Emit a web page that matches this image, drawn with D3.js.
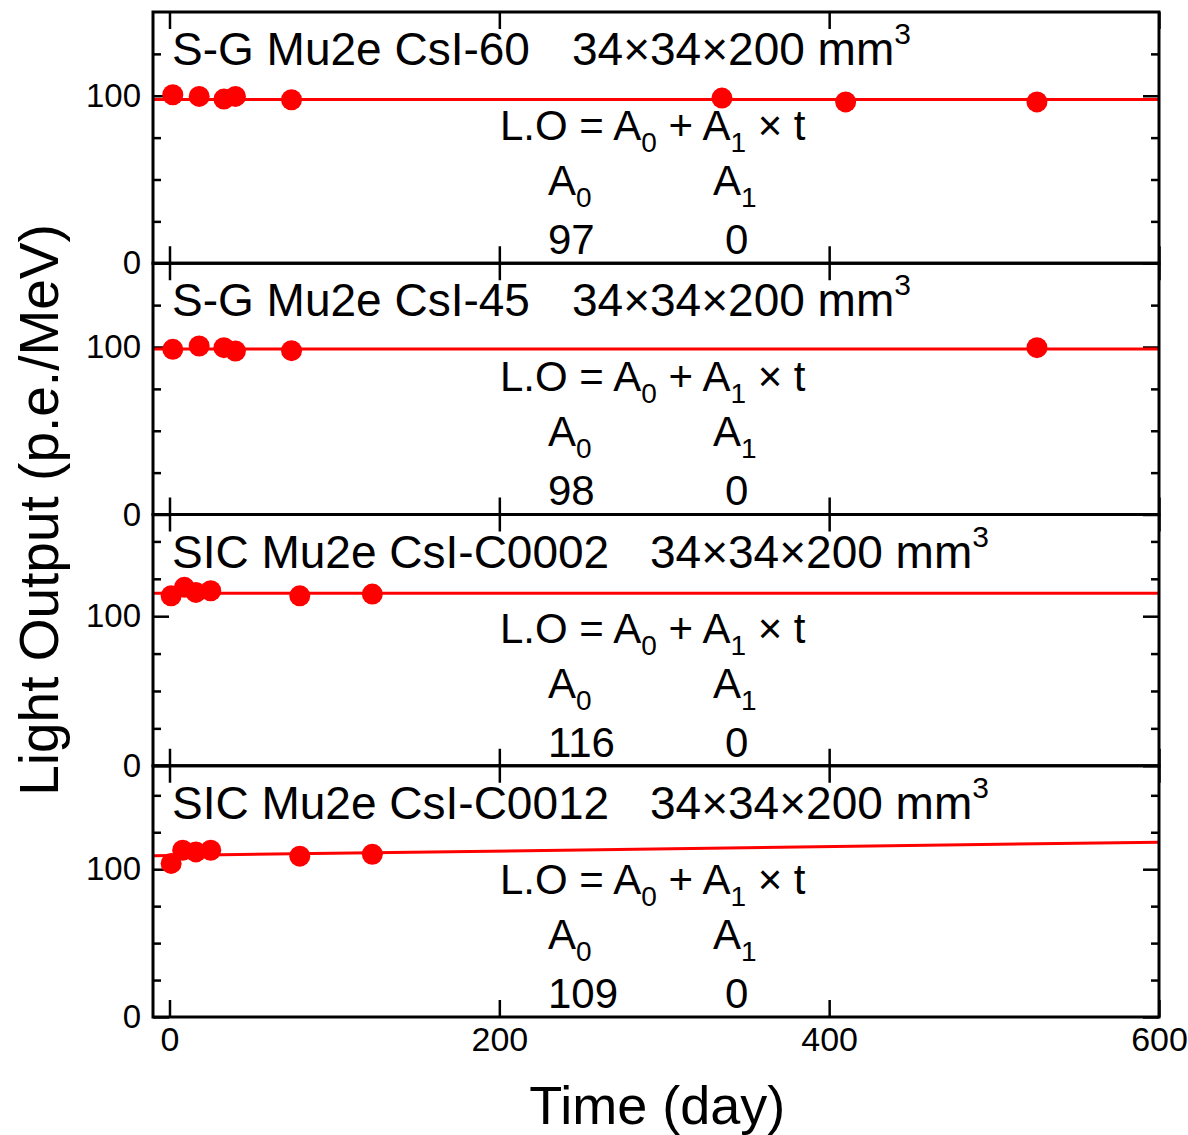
<!DOCTYPE html>
<html>
<head>
<meta charset="utf-8">
<script src="https://cdn.jsdelivr.net/npm/d3@7"></script>
<style>
  html, body { margin: 0; padding: 0; background: #fff; }
  svg { display: block; font-family: "Liberation Sans", Arial, sans-serif; }
</style>
</head>
<body>
<svg id="chart" width="1188" height="1135"></svg>
<script>
// ---------- data ----------
const panelNames = ["S-G Mu2e CsI-60", "S-G Mu2e CsI-45", "SIC Mu2e CsI-C0002", "SIC Mu2e CsI-C0012"];
const panelDims = "34×34×200 mm";
const days1 = [2, 18, 33, 40, 74, 335, 410, 526];
const lo1   = [100.6, 99.6, 98.0, 99.6, 97.6, 98.6, 96.3, 96.3];
const days2 = [2, 18, 33, 40, 74, 526];
const lo2   = [98.6, 100.6, 99.6, 97.6, 97.8, 99.6];
const days3 = [1, 9, 16, 25, 79, 123];
const lo3   = [113.6, 119.3, 115.9, 117.0, 113.6, 114.8];
const days4 = [1, 8, 16, 25, 79, 123];
const lo4   = [103.9, 112.8, 111.7, 112.8, 108.8, 110.1];
const fitA0 = [97.7, 98.8, 115.4, 109.3];
const fitA1 = [0, 0, 0, 0.015];
const labelA0 = ["97", "98", "116", "109"];
const labelA1 = ["0", "0", "0", "0"];
const yMax = [150, 150, 168, 170];
const xTicks = [0, 200, 400, 600];
const yMajorTicks = [0, 100];
const yMinorTicks = [25, 50, 75, 125, 150];
const xDomain = [-10, 600];

const series = [
  {days: days1, lo: lo1},
  {days: days2, lo: lo2},
  {days: days3, lo: lo3},
  {days: days4, lo: lo4}
];

// ---------- layout ----------
const svg = d3.select("#chart");
const left = 153, right = 1159, top0 = 12, bottom = 1017;
const nP = 4;
const pH = (bottom - top0) / nP;
const red = "#ff0000";

const x = d3.scaleLinear().domain(xDomain).range([left, right]);

series.forEach((s, i) => {
  const pTop = top0 + i * pH;
  const pBot = pTop + pH;
  const y = d3.scaleLinear().domain([0, yMax[i]]).range([pBot, pTop]);
  const g = svg.append("g");

  const clipId = "clip" + i;
  svg.append("clipPath").attr("id", clipId)
    .append("rect").attr("x", left).attr("y", pTop).attr("width", right - left).attr("height", pH);

  const minor = yMinorTicks.filter(v => v < yMax[i]);
  const styleAxis = sel => {
    sel.select(".domain").remove();
    sel.selectAll(".tick line").attr("stroke", "#000").attr("stroke-width", 2.5);
    sel.selectAll("text").attr("fill", "#000");
  };
  g.append("g").attr("transform", `translate(${left},0)`)
    .call(d3.axisLeft(y).tickValues(yMajorTicks).tickSize(-16).tickPadding(12).tickFormat(d3.format("d")))
    .call(styleAxis)
    .selectAll("text").attr("font-size", 33).attr("font-family", "Liberation Sans, Arial, sans-serif");
  g.append("g").attr("transform", `translate(${left},0)`)
    .call(d3.axisLeft(y).tickValues(minor).tickSize(-8).tickFormat(""))
    .call(styleAxis);
  g.append("g").attr("transform", `translate(${right},0)`)
    .call(d3.axisRight(y).tickValues(yMajorTicks).tickSize(-16).tickFormat(""))
    .call(styleAxis);
  g.append("g").attr("transform", `translate(${right},0)`)
    .call(d3.axisRight(y).tickValues(minor).tickSize(-8).tickFormat(""))
    .call(styleAxis);
  g.append("g").attr("transform", `translate(0,${pTop})`)
    .call(d3.axisTop(x).tickValues(xTicks).tickSize(-17).tickFormat(""))
    .call(styleAxis);
  const bx = g.append("g").attr("transform", `translate(0,${pBot})`)
    .call(d3.axisBottom(x).tickValues(xTicks).tickSize(-17).tickPadding(10)
      .tickFormat(i === nP - 1 ? d3.format("d") : ""))
    .call(styleAxis);
  bx.selectAll("text").attr("font-size", 34).attr("font-family", "Liberation Sans, Arial, sans-serif");

  // fit line
  const lineGen = d3.line().x(d => x(d)).y(d => y(fitA0[i] + fitA1[i] * d));
  g.append("path").datum(xDomain)
    .attr("d", lineGen)
    .attr("clip-path", `url(#${clipId})`)
    .attr("fill", "none").attr("stroke", red).attr("stroke-width", 3);

  // points
  g.selectAll("circle.pt").data(s.days.map((d, k) => [d, s.lo[k]]))
    .join("circle").attr("class", "pt")
    .attr("cx", d => x(d[0])).attr("cy", d => y(d[1])).attr("r", 10.5)
    .attr("fill", red);

  // title
  const dimX = i < 2 ? 572 : 650;
  const t = g.append("text").attr("y", pTop + 53).attr("font-size", 46).attr("fill", "#000");
  t.append("tspan").attr("x", 172).text(panelNames[i]);
  t.append("tspan").attr("x", dimX).text(panelDims);
  t.append("tspan").attr("font-size", 30).attr("dy", -21).text("3");

  // equation
  const eq = g.append("text").attr("x", 500).attr("y", pTop + 128).attr("font-size", 42).attr("fill", "#000");
  eq.append("tspan").text("L.O = A");
  eq.append("tspan").attr("font-size", 28).attr("dy", 12).text("0");
  eq.append("tspan").attr("dy", -12).text(" + A");
  eq.append("tspan").attr("font-size", 28).attr("dy", 12).text("1");
  eq.append("tspan").attr("dy", -12).text(" × t");

  const r2 = pTop + 183;
  const a0 = g.append("text").attr("x", 548).attr("y", r2).attr("font-size", 42).attr("fill", "#000");
  a0.append("tspan").text("A");
  a0.append("tspan").attr("font-size", 28).attr("dy", 12).text("0");
  const a1 = g.append("text").attr("x", 713).attr("y", r2).attr("font-size", 42).attr("fill", "#000");
  a1.append("tspan").text("A");
  a1.append("tspan").attr("font-size", 28).attr("dy", 12).text("1");

  const r3 = pTop + 242;
  g.append("text").attr("x", 548).attr("y", r3).attr("font-size", 42).attr("fill", "#000").text(labelA0[i]);
  g.append("text").attr("x", 725).attr("y", r3).attr("font-size", 42).attr("fill", "#000").text(labelA1[i]);

  // frame
  g.append("rect").attr("x", left).attr("y", pTop).attr("width", right - left).attr("height", pH)
    .attr("fill", "none").attr("stroke", "#000").attr("stroke-width", 3);
});

// axis titles
svg.append("text").attr("x", (x(0) + x(600)) / 2 - 7).attr("y", 1124)
  .attr("text-anchor", "middle").attr("font-size", 54).attr("fill", "#000").text("Time (day)");
svg.append("text").attr("transform", "translate(58,510) rotate(-90)")
  .attr("text-anchor", "middle").attr("font-size", 55).attr("fill", "#000").text("Light Output (p.e./MeV)");
</script>
</body>
</html>
